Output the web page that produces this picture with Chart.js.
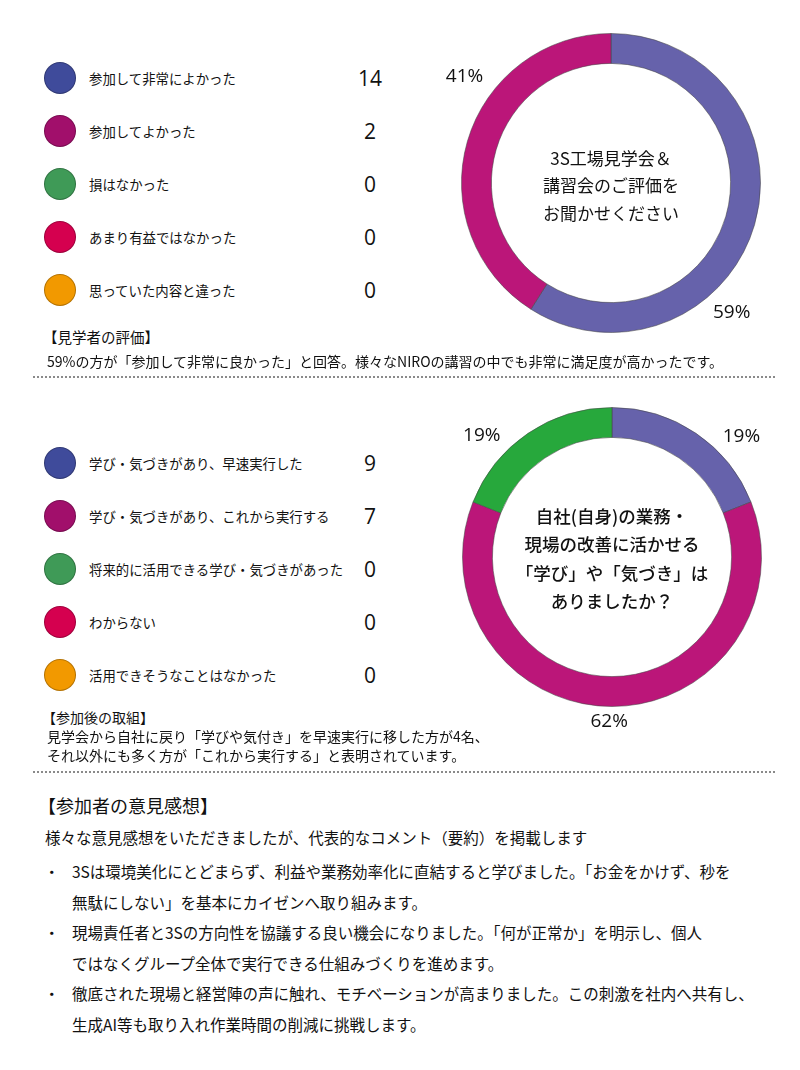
<!DOCTYPE html>
<html lang="ja">
<head>
<meta charset="utf-8">
<script src="https://cdn.jsdelivr.net/npm/chart.js@4.4.1/dist/chart.umd.min.js"></script>
<style>
  html, body { margin: 0; padding: 0; background: #fff; }
  body { width: 800px; height: 1070px; position: relative; overflow: hidden;
         font-family: "Noto Sans CJK JP", "Noto Sans", sans-serif; color: #111; }
  .abs { position: absolute; white-space: nowrap; }
  .dot { position: absolute; width: 32px; height: 32px; border-radius: 50%; box-sizing: border-box;
         border: 1px solid rgba(0,0,0,0.25); }
  .lbl { position: absolute; font-size: 13.4px; line-height: 20px; }
  .num { position: absolute; width: 40px; text-align: center; font-family: "Open Sans", "Noto Sans", sans-serif;
         font-size: 21px; line-height: 28px; }
  .sep { position: absolute; left: 33px; width: 742px; height: 0; border-top: 2.5px dotted #8a8a8a; }
  .chart { position: absolute; width: 400px; height: 400px; }
</style>
</head>
<body>

<div id="legend1"></div>
<div id="legend2"></div>

<div class="chart" style="left:411px; top:-17px;"><canvas id="chart1"></canvas></div>
<div class="chart" style="left:412px; top:357px;"><canvas id="chart2"></canvas></div>

<div class="abs" style="left:43px; top:326px; font-size:14.5px;">【見学者の評価】</div>
<div class="abs" style="left:47px; top:351px; font-size:14px;">59%の方が「参加して非常に良かった」と回答。様々なNIROの講習の中でも非常に満足度が高かったです。</div>
<div class="sep" style="top:376px;"></div>

<div class="abs" style="left:42px; top:707px; font-size:14px;">【参加後の取組】</div>
<div class="abs" style="left:47px; top:727px; font-size:14px; line-height:19px;">見学会から自社に戻り「学びや気付き」を早速実行に移した方が4名、<br>それ以外にも多く方が「これから実行する」と表明されています。</div>
<div class="sep" style="top:771px;"></div>

<div class="abs" style="left:38px; top:792px; font-size:18px;">【参加者の意見感想】</div>
<div class="abs" style="left:45px; top:826px; font-size:15.5px;">様々な意見感想をいただきましたが、代表的なコメント（要約）を掲載します</div>
<div id="comments"></div>

<script>
// Question 1
const labels1 = ['参加して非常によかった', '参加してよかった', '損はなかった', 'あまり有益ではなかった', '思っていた内容と違った'];
const counts1 = [14, 2, 0, 0, 0];
const shareLabels1 = ['参加して非常によかった', '参加してよかった'];
const share1 = [59, 41];

// Question 2
const labels2 = ['学び・気づきがあり、早速実行した', '学び・気づきがあり、これから実行する', '将来的に活用できる学び・気づきがあった', 'わからない', '活用できそうなことはなかった'];
const counts2 = [9, 7, 0, 0, 0];
const shareLabels2 = ['学び・気づきがあり、早速実行した', '学び・気づきがあり、これから実行する', '将来的に活用できる学び・気づきがあった'];
const share2 = [19, 62, 19];

const legendColors = ['#3f4b9b', '#a10f6b', '#3f9a57', '#d5004f', '#f29900'];
const donutColors1 = ['#6662ab', '#bb1679'];
const donutColors2 = ['#6662ab', '#bb1679', '#27a83c'];

const center1 = ['3S工場見学会＆', '講習会のご評価を', 'お聞かせください'];
const center2 = ['自社(自身)の業務・', '現場の改善に活かせる', '「学び」や「気づき」は', 'ありましたか？'];

const comments = [
    ['3Sは環境美化にとどまらず、利益や業務効率化に直結すると学びました。「お金をかけず、秒を', '無駄にしない」を基本にカイゼンへ取り組みます。'],
    ['現場責任者と3Sの方向性を協議する良い機会になりました。「何が正常か」を明示し、個人', 'ではなくグループ全体で実行できる仕組みづくりを進めます。'],
    ['徹底された現場と経営陣の声に触れ、モチベーションが高まりました。この刺激を社内へ共有し、', '生成AI等も取り入れ作業時間の削減に挑戦します。']
];

// Build the list next to each doughnut
function buildLegend(id, labels, counts, top) {
    let html = '';
    labels.forEach((label, i) => {
        const y = top + i * 53;
        html += `<div class="dot" style="left:44px; top:${y - 16}px; background:${legendColors[i]};"></div>`;
        html += `<div class="lbl" style="left:89px; top:${y - 10}px;">${label}</div>`;
        html += `<div class="num" style="left:350px; top:${y - 14}px;">${counts[i]}</div>`;
    });
    document.getElementById(id).innerHTML = html;
}
buildLegend('legend1', labels1, counts1, 78);
buildLegend('legend2', labels2, counts2, 463);

// Comment bullets
let commentHTML = '';
comments.forEach((lines, i) => {
    const y = 860 + i * 61;
    commentHTML += `<div class="abs" style="left:44px; top:${y}px; font-size:15.5px;">・</div>`;
    lines.forEach((line, j) => {
        commentHTML += `<div class="abs" style="left:72px; top:${y + j * 30.5}px; font-size:15.5px;">${line}</div>`;
    });
});
document.getElementById('comments').innerHTML = commentHTML;

// Plugin: percentage labels around the ring + question text in the middle
const donutText = {
    id: 'donutText',
    afterDatasetsDraw(chart, args, opts) {
        const ctx = chart.ctx;
        const arc = chart.getDatasetMeta(0).data[0];
        const cx = arc.x, cy = arc.y;
        const values = chart.data.datasets[0].data;

        ctx.save();
        ctx.fillStyle = '#111';
        ctx.textAlign = 'center';
        ctx.textBaseline = 'middle';

        ctx.font = '19px "Open Sans", "Noto Sans", sans-serif';
        values.forEach((v, i) => {
            const a = opts.labelAngles[i] * Math.PI / 180;
            const x = cx + Math.sin(a) * opts.labelRadius[i];
            const y = cy - Math.cos(a) * opts.labelRadius[i];
            ctx.fillText(v + '%', x, y);
        });

        ctx.font = opts.centerFont;
        const lines = opts.lines;
        const startY = cy + opts.centerShift - (lines.length - 1) * opts.lineHeight / 2;
        lines.forEach((line, i) => {
            ctx.fillText(line, cx, startY + i * opts.lineHeight);
        });
        ctx.restore();
    }
};

function makeDonut(id, labels, values, colors, textOpts) {
    new Chart(document.getElementById(id), {
        type: 'doughnut',
        data: {
            labels: labels,
            datasets: [{
                data: values,
                backgroundColor: colors,
                borderColor: 'rgba(70,70,70,0.55)',
                borderWidth: 1
            }]
        },
        options: {
            responsive: false,
            animation: false,
            cutout: '80%',
            layout: { padding: 50 },
            plugins: {
                legend: { display: false },
                tooltip: { enabled: false },
                donutText: textOpts
            }
        },
        plugins: [donutText]
    });
}

document.getElementById('chart1').width = 400;
document.getElementById('chart1').height = 400;
document.getElementById('chart2').width = 400;
document.getElementById('chart2').height = 400;

makeDonut('chart1', shareLabels1, share1, donutColors1, {
    labelAngles: [137, 306],
    labelRadius: [177, 181],
    lines: center1,
    lineHeight: 27.5,
    centerShift: 3,
    centerFont: '17px "Noto Sans CJK JP", sans-serif'
});

makeDonut('chart2', shareLabels2, share2, donutColors2, {
    labelAngles: [47, 181, 313],
    labelRadius: [177, 165, 178],
    lines: center2,
    lineHeight: 28.5,
    centerShift: 2,
    centerFont: '500 17.5px "Noto Sans CJK JP", sans-serif'
});
</script>
</body>
</html>
